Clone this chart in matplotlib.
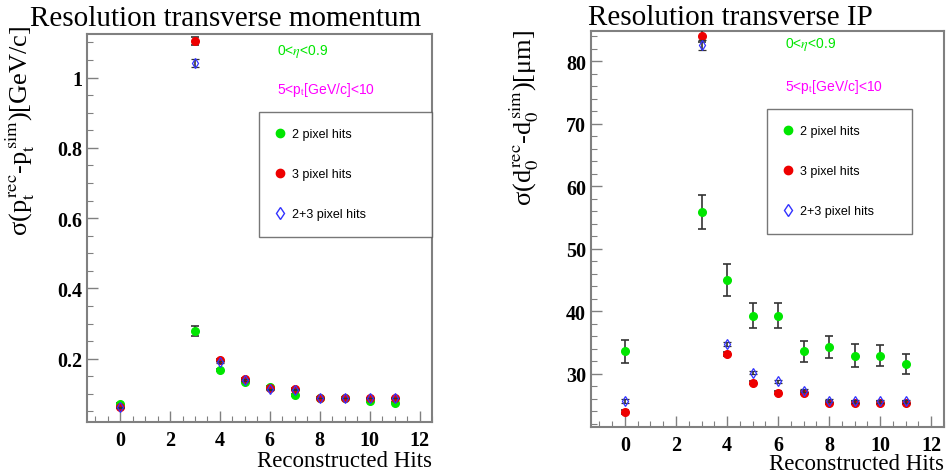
import matplotlib
matplotlib.use("Agg")
import matplotlib.pyplot as plt
from matplotlib.lines import Line2D

plt.rcParams['mathtext.fontset'] = 'stix'

# reconstructed hits
hits = [0, 3, 4, 5, 6, 7, 8, 9, 10, 11]

# --- transverse momentum resolution [GeV/c]
pt_2pix = [0.071, 0.279, 0.168, 0.135, 0.120, 0.097, 0.088, 0.088, 0.080, 0.075]
pt_2pix_err = [0.003, 0.013, 0.003, 0.002, 0.002, 0.002, 0.002, 0.002, 0.002, 0.002]
pt_3pix = [0.063, 1.104, 0.196, 0.142, 0.118, 0.115, 0.088, 0.088, 0.088, 0.088]
pt_3pix_err = [0.002, 0.012, 0.003, 0.002, 0.002, 0.002, 0.001, 0.001, 0.001, 0.001]
pt_all = [0.062, 1.041, 0.190, 0.140, 0.113, 0.112, 0.088, 0.088, 0.088, 0.088]
pt_all_err = [0.002, 0.012, 0.003, 0.002, 0.002, 0.002, 0.001, 0.001, 0.001, 0.001]

# --- transverse impact parameter resolution [um]
ip_2pix = [33.6, 55.9, 45.0, 39.3, 39.3, 33.6, 34.3, 32.9, 32.9, 31.5]
ip_2pix_err = [1.8, 2.7, 2.5, 2.0, 2.0, 1.7, 1.7, 1.8, 1.7, 1.6]
ip_3pix = [23.9, 84.0, 33.2, 28.6, 27.0, 27.0, 25.4, 25.4, 25.4, 25.4]
ip_3pix_err = [0.3, 1.0, 0.3, 0.2, 0.2, 0.2, 0.2, 0.2, 0.2, 0.2]
ip_all = [25.7, 82.6, 34.8, 30.2, 28.8, 27.3, 25.7, 25.6, 25.6, 25.6]
ip_all_err = [0.3, 0.8, 0.3, 0.2, 0.2, 0.2, 0.2, 0.2, 0.2, 0.2]

labels = ["2 pixel hits", "3 pixel hits", "2+3 pixel hits"]
xticks = [0, 2, 4, 6, 8, 10, 12]

GREEN = '#00e600'
RED = '#ee0000'
BLUE = '#3333ff'
FRAME = '#808080'

W, H = 946, 477
fig = plt.figure(figsize=(W / 100, H / 100), dpi=100)


def panel(rect, y2, e2, y3, e3, ya, ea, ylim, yticks, yminor):
	x0, y0, x1, y1 = rect
	ax = fig.add_axes([x0 / W, 1 - y1 / H, (x1 - x0) / W, (y1 - y0) / H])
	ax.errorbar(hits, y2, yerr=e2, fmt='o', color=GREEN, ms=5.5, ecolor='#333333',
				elinewidth=1.2, capsize=3, capthick=1.2, zorder=3)
	ax.errorbar(hits, y3, yerr=e3, fmt='o', color=RED, ms=5.5, ecolor='#333333',
				elinewidth=1.2, capsize=3, capthick=1.2, zorder=3)
	ax.errorbar(hits, ya, yerr=ea, fmt='d', mfc='none', mec=BLUE, mew=0.9, ms=5,
				ecolor='#333333', elinewidth=1.2, capsize=3, capthick=1.2, zorder=4)
	ax.set_xlim(-1.33, 12.33)
	ax.set_ylim(*ylim)
	ax.set_xticks(xticks)
	ax.set_xticks([v * 0.5 - 1 for v in range(28)], minor=True)
	ax.set_yticks(yticks)
	ax.set_yticks(yminor, minor=True)
	ax.tick_params(which='both', direction='in', color=FRAME, top=False, right=False)
	ax.tick_params(which='major', length=8, width=1)
	ax.tick_params(which='minor', length=4, width=0.8)
	ax.tick_params(axis='x', pad=6)
	for lab in ax.get_xticklabels() + ax.get_yticklabels():
		lab.set_fontfamily('Liberation Serif')
		lab.set_fontweight('bold')
		lab.set_fontsize(14.5)
	for s in ax.spines.values():
		s.set_color(FRAME)
		s.set_linewidth(1.5)
	return ax


axL = panel((87, 35, 432, 423), pt_2pix, pt_2pix_err, pt_3pix, pt_3pix_err, pt_all, pt_all_err,
			(0.02, 1.124), [0.2, 0.4, 0.6, 0.8, 1.0],
			[0.05 + 0.05 * i for i in range(22)])
axL.set_yticklabels(['0.2', '0.4', '0.6', '0.8', '1'])

axR = panel((591, 32, 944, 428), ip_2pix, ip_2pix_err, ip_3pix, ip_3pix_err, ip_all, ip_all_err,
			(21.5, 84.8), [30, 40, 50, 60, 70, 80],
			[22 + 2 * i for i in range(32)])

handles = [
	Line2D([], [], ls='none', marker='o', color=GREEN, ms=6),
	Line2D([], [], ls='none', marker='o', color=RED, ms=6),
	Line2D([], [], ls='none', marker='d', mfc='none', mec=BLUE, ms=6),
]

for ax, box, txt in [(axL, (259, 113, 432), (277, 52, 90)),
					 (axR, (767, 110, 912), (785, 45, 87))]:
	pos = ax.get_position()
	ax_x0, ax_y1 = pos.x0 * W, (1 - pos.y1) * H
	aw, ah = pos.width * W, pos.height * H
	bx0 = (box[0] - ax_x0) / aw
	bw = (box[2] - box[0]) / aw
	by = 1 - (box[1] - ax_y1) / ah
	leg = ax.legend(handles, labels, loc='upper left', bbox_to_anchor=(bx0, by - 0.01, bw, 0.01),
					mode='expand', borderaxespad=0, fancybox=False, frameon=True,
					prop={'family': 'Liberation Sans', 'size': 9}, labelspacing=2.25,
					handlelength=0.8, handletextpad=0.5, borderpad=1.3)
	leg.get_frame().set_edgecolor('#555555')
	leg.get_frame().set_linewidth(1.0)
	tx = (txt[0] - ax_x0) / aw
	ax.text(tx, 1 - (txt[1] - ax_y1) / ah, r'0<$\eta$<0.9', color=GREEN, transform=ax.transAxes,
			fontsize=10, family='Liberation Sans', va='center', ha='left')
	ax.text(tx, 1 - (txt[2] - ax_y1) / ah, r'5<p$_{\mathrm{t}}$[GeV/c]<10', color='#ff00ff',
			transform=ax.transAxes, fontsize=10, family='Liberation Sans', va='center', ha='left')

# titles and axis labels
fig.text(226 / W, 1 - 19 / H, 'Resolution transverse momentum', fontsize=21,
		 family='Liberation Serif', ha='center', va='center')
fig.text(730 / W, 1 - 18 / H, 'Resolution transverse IP', fontsize=21,
		 family='Liberation Serif', ha='center', va='center')
fig.text(432 / W, 1 - 462 / H, 'Reconstructed Hits', fontsize=16.5,
		 family='Liberation Serif', ha='right', va='center')
fig.text(944 / W, 1 - 465 / H, 'Reconstructed Hits', fontsize=16.5,
		 family='Liberation Serif', ha='right', va='center')
fig.text(20 / W, 1 - 131 / H,
		 'σ(p$_\\mathrm{t}^{\\,\\mathrm{rec}}$-p$_\\mathrm{t}^{\\,\\mathrm{sim}}$)[GeV/c]',
		 fontsize=19, family='Liberation Serif', rotation=90, ha='center', va='center')
fig.text(524 / W, 1 - 118 / H,
		 'σ(d$_\\mathrm{0}^{\\,\\mathrm{rec}}$-d$_\\mathrm{0}^{\\,\\mathrm{sim}}$)[μm]',
		 fontsize=19, family='Liberation Serif', rotation=90, ha='center', va='center')

fig.savefig('out.png', dpi=100)
